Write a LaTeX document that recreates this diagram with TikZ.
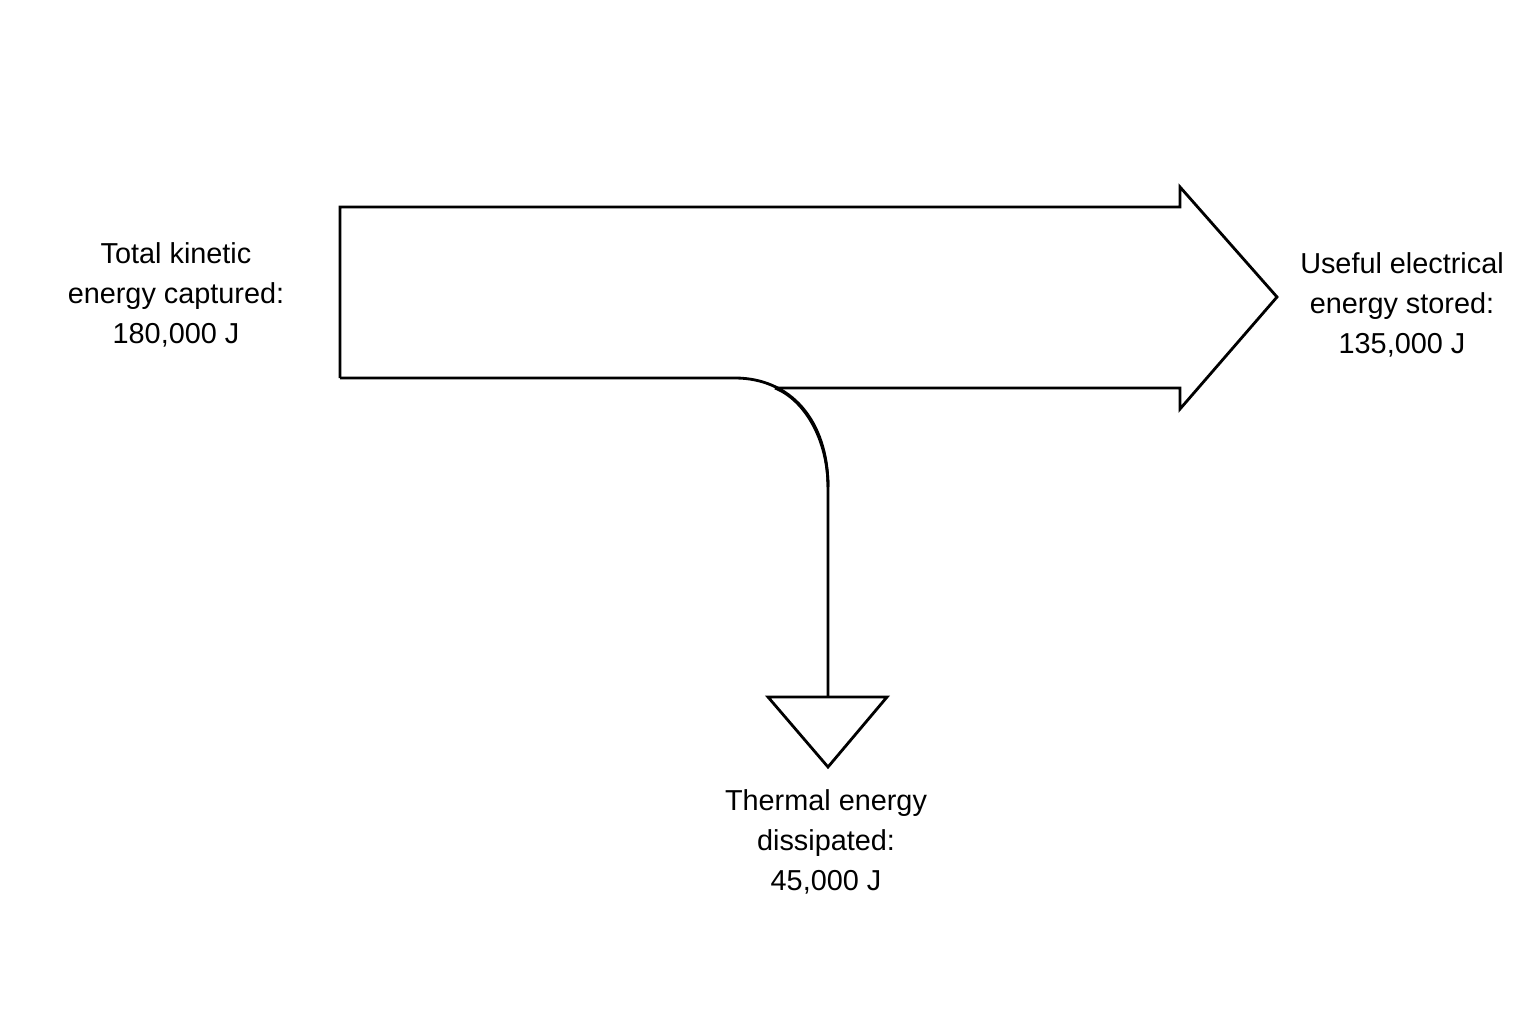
\documentclass[tikz,border=0pt]{standalone}
\usepackage{fontspec}
\setmainfont{Liberation Sans}
\begin{document}
\begin{tikzpicture}[x=0.01cm,y=-0.01cm,
  lbl/.style={align=center,font=\fontsize{8.2pt}{11.4pt}\selectfont},
  flow/.style={line width=0.8pt,line join=miter}]
\useasboundingbox (0,0) rectangle (1536,1024);
\coordinate (a1) at (340,207);
\coordinate (a2) at (1180,207);
\coordinate (a3) at (1180,187);
\coordinate (tip) at (1277,297);
\coordinate (a4) at (1180,409);
\coordinate (a5) at (1180,388);
\coordinate (a6) at (775,388);
\coordinate (b1) at (340,378);
\coordinate (b2) at (735,378);
\coordinate (c1) at (828,487);
\coordinate (c2) at (828,697);
\coordinate (t1) at (768,697);
\coordinate (t2) at (887,697);
\coordinate (t3) at (828,767);
\draw[flow] (b1) -- (a1) -- (a2) -- (a3) -- (tip) -- (a4) -- (a5) -- (a6);
\draw[flow] (b1) -- (b2) .. controls (790,378) and (828,420) .. (c1) -- (c2);
\draw[flow] (a6) .. controls (805,400) and (828,440) .. (c1);
\draw[flow] (t1) -- (t2) -- (t3) -- cycle;
\node[lbl] (src) at (176,295) {Total kinetic\\energy captured:\\180,000 J};
\node[lbl] (use) at (1402,305) {Useful electrical\\energy stored:\\135,000 J};
\node[lbl] (loss) at (826,842) {Thermal energy\\dissipated:\\45,000 J};
\end{tikzpicture}
\end{document}
